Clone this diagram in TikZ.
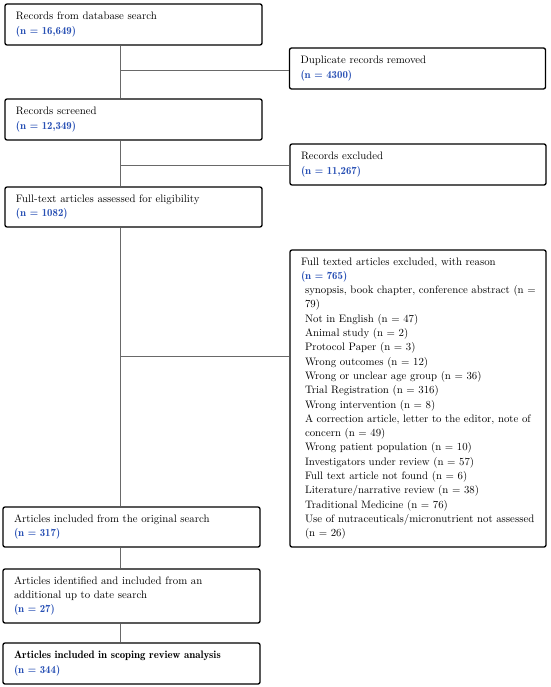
\documentclass[tikz,border=0pt]{standalone}
\definecolor{nblue}{RGB}{40,80,180}
\definecolor{linkgray}{RGB}{105,105,105}
\newcommand{\nrec}[1]{\textcolor{nblue}{\fontseries{b}\selectfont(n = #1)}}
\begin{document}
\begin{tikzpicture}[x=1pt,y=1pt,
  every node/.style={draw=black,line width=1.3pt,rounded corners=2pt,align=left,
    inner xsep=11pt,inner ysep=0pt,font=\fontsize{10.8}{14.3}\selectfont},
  stagebox/.style={text width=235pt,minimum height=41pt},
  sidebox/.style={text width=234pt,minimum height=41pt},
  link/.style={draw=linkgray,line width=0.8pt}]

  \useasboundingbox (0,0) rectangle (550,-687);

  % Specification of nodes (position, etc.)
  \node[stagebox] (search) at (133.5,-24.5) {Records from database search\\ \nrec{16,649}};
  \node[sidebox] (dup) at (417.5,-68.5) {Duplicate records removed\\ \nrec{4300}};
  \node[stagebox] (screened) at (133.5,-119.5) {Records screened\\ \nrec{12,349}};
  \node[sidebox] (excl) at (418,-164.5) {Records excluded\\ \nrec{11,267}};
  \node[stagebox,minimum height=40pt] (fulltext) at (133.5,-207) {Full-text articles assessed for eligibility\\ \nrec{1082}};
  \node[sidebox,minimum height=297pt] (reasons) at (418,-398.5) {Full texted articles excluded, with reason\\
    \nrec{765}\\
    \hspace*{4pt}\makebox[0pt][l]{synopsis, book chapter, conference abstract (n =}\\
    \hspace*{4pt}79)\\
    \hspace*{4pt}Not in English (n = 47)\\
    \hspace*{4pt}Animal study (n = 2)\\
    \hspace*{4pt}Protocol Paper (n = 3)\\
    \hspace*{4pt}Wrong outcomes (n = 12)\\
    \hspace*{4pt}Wrong or unclear age group (n = 36)\\
    \hspace*{4pt}Trial Registration (n = 316)\\
    \hspace*{4pt}Wrong intervention (n = 8)\\
    \hspace*{4pt}A correction article, letter to the editor, note of\\
    \hspace*{4pt}concern (n = 49)\\
    \hspace*{4pt}Wrong patient population (n = 10)\\
    \hspace*{4pt}Investigators under review (n = 57)\\
    \hspace*{4pt}Full text article not found (n = 6)\\
    \hspace*{4pt}Literature/narrative review (n = 38)\\
    \hspace*{4pt}Traditional Medicine (n = 76)\\
    \hspace*{4pt}Use of nutraceuticals/micronutrient not assessed\\
    \hspace*{4pt}(n = 26)};
  \node[stagebox,minimum height=40pt] (original) at (131.5,-527) {Articles included from the original search\\ \nrec{317}};
  \node[stagebox,minimum height=54pt] (additional) at (131.5,-596) {Articles identified and included from an\\ additional up to date search\\ \nrec{27}};
  \node[stagebox] (final) at (131.5,-663.5) {{\fontseries{b}\selectfont Articles included in scoping review analysis}\\ \nrec{344}};

  % trunk branch points
  \coordinate (t1) at (120,-70);
  \coordinate (t2) at (120,-165);
  \coordinate (t3) at (120,-356);

  \begin{scope}[link]
    \draw (search.south -| t1) -- (screened.north -| t1);
    \draw (screened.south -| t2) -- (fulltext.north -| t2);
    \draw (fulltext.south -| t3) -- (original.north -| t3);
    \draw (original.south -| t3) -- (additional.north -| t3);
    \draw (additional.south -| t3) -- (final.north -| t3);
    \draw (t1) -- (t1 -| dup.west);
    \draw (t2) -- (t2 -| excl.west);
    \draw (t3) -- (t3 -| reasons.west);
  \end{scope}

\end{tikzpicture}
\end{document}
